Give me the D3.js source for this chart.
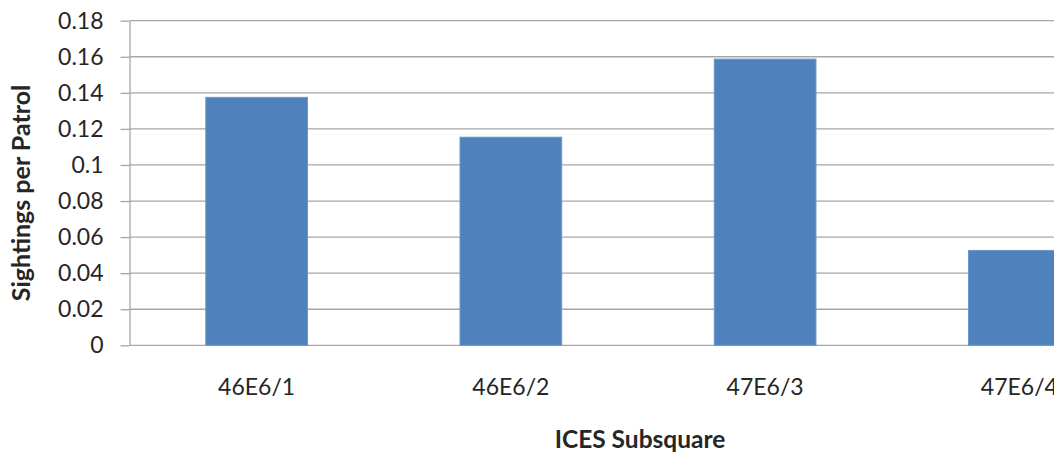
<!DOCTYPE html>
<html>
<head>
<meta charset="utf-8">
<script src="https://cdn.jsdelivr.net/npm/d3@7"></script>
<style>
  html, body { margin: 0; padding: 0; background: #ffffff; overflow: hidden; }
  svg { display: block; }
  text { font-family: Lato, "Open Sans", sans-serif; fill: #262626; }
</style>
</head>
<body>
<svg id="chart" width="1054" height="453"></svg>
<script>
// Sightings per patrol by ICES subsquare
const categories = ["46E6/1", "46E6/2", "47E6/3", "47E6/4"];
const sightingsPerPatrol = [0.1375, 0.1154, 0.1587, 0.0526];
const yTickValues = [0, 0.02, 0.04, 0.06, 0.08, 0.1, 0.12, 0.14, 0.16, 0.18];
const yTickLabels = ["0", "0.02", "0.04", "0.06", "0.08", "0.1", "0.12", "0.14", "0.16", "0.18"];
const xTitle = "ICES Subsquare";
const yTitle = "Sightings per Patrol";

const svg = d3.select("#chart");

// plot area (the category axis runs on past the right edge of the page)
const plot = { left: 129.5, right: 1146.5, top: 20.7, bottom: 345.3 };

const x = d3.scaleBand()
  .domain(categories)
  .range([plot.left, plot.right])
  .paddingInner(0.6)
  .paddingOuter(0.3);

const y = d3.scaleLinear()
  .domain([0, 0.18])
  .range([plot.bottom, plot.top]);

// horizontal gridlines
svg.append("g")
  .selectAll("line")
  .data(yTickValues)
  .join("line")
  .attr("x1", plot.left)
  .attr("x2", 1054)
  .attr("y1", d => y(d))
  .attr("y2", d => y(d))
  .attr("stroke", "#a6a6a6")
  .attr("stroke-width", 1.3);

// bars
svg.append("g")
  .selectAll("rect")
  .data(categories)
  .join("rect")
  .attr("x", d => x(d))
  .attr("width", x.bandwidth())
  .attr("y", (d, i) => y(sightingsPerPatrol[i]))
  .attr("height", (d, i) => plot.bottom - y(sightingsPerPatrol[i]))
  .attr("fill", "#4f81bd")
  .attr("stroke", "#6b98cb")
  .attr("stroke-width", 1);

// value axis
const yAxis = svg.append("g")
  .attr("transform", `translate(${plot.left},0)`)
  .call(d3.axisLeft(y)
    .tickValues(yTickValues)
    .tickFormat((d, i) => yTickLabels[i])
    .tickSize(9)
    .tickSizeOuter(0)
    .tickPadding(17));
yAxis.select(".domain").attr("stroke", "#a6a6a6").attr("stroke-width", 1.3);
yAxis.selectAll(".tick line").attr("stroke", "#a6a6a6").attr("stroke-width", 1.3);
yAxis.selectAll("text")
  .style("font-family", "Lato, 'Open Sans', sans-serif")
  .style("font-size", "23px")
  .attr("fill", "#262626");

// category axis labels
const xAxis = svg.append("g")
  .attr("transform", `translate(0,${plot.bottom})`)
  .call(d3.axisBottom(x).tickSize(0).tickSizeOuter(0));
xAxis.select(".domain").remove();
xAxis.selectAll("text")
  .attr("y", 50)
  .attr("dy", 0)
  .style("font-family", "Lato, 'Open Sans', sans-serif")
  .style("font-size", "23px")
  .attr("fill", "#262626");

// axis titles
svg.append("text")
  .attr("x", 640)
  .attr("y", 447.5)
  .attr("text-anchor", "middle")
  .style("font-size", "24.5px")
  .style("font-weight", "bold")
  .text(xTitle);

svg.append("text")
  .attr("transform", "translate(30,193) rotate(-90)")
  .attr("text-anchor", "middle")
  .style("font-size", "25px")
  .style("font-weight", "bold")
  .text(yTitle);
</script>
</body>
</html>
